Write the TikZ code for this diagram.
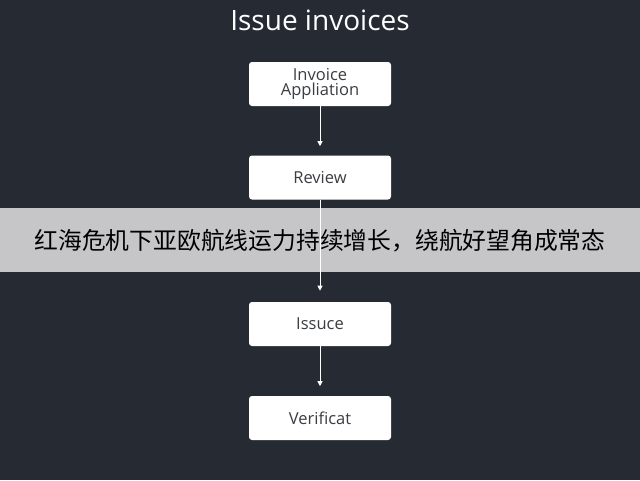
\documentclass[tikz,border=0pt]{standalone}
\usepackage{fontspec}
\setmainfont{Open Sans}
\newfontfamily\cjk{Noto Sans CJK SC}
\usetikzlibrary{arrows.meta}
\definecolor{bg}{HTML}{262B33}
\definecolor{band}{HTML}{C6C6C8}
\definecolor{txt}{HTML}{3A3D42}
\begin{document}
\begin{tikzpicture}[x=1pt,y=-1pt,
  box/.style={draw=none,fill=white,rounded corners=3pt,minimum width=142pt,minimum height=44pt,text=txt,font=\fontsize{16.5}{18}\selectfont,align=center,inner sep=2pt},
  arr/.style={draw=white,line width=1pt,-{Triangle[width=5pt,length=5pt]}}]
\fill[bg] (0,0) rectangle (640,480);
\node[text=white,font=\fontsize{28}{30}\selectfont] (t) at (320,20) {Issue invoices};
\node[box] (a) at (320,84) {Invoice\\[-3pt]Appliation};
\node[box] (b) at (320,177.5) {Review};
\node[box] (c) at (320,324) {Issuce};
\node[box] (d) at (320,418) {Verificat};
\fill[band] (0,208) rectangle (640,272);
\node[font=\cjk\fontsize{23.8}{26}\selectfont,text=black] (bt) at (320,241) {红海危机下亚欧航线运力持续增长，绕航好望角成常态};
\draw[arr] (a.south) -- ++(0,40);
\draw[arr] (b.south) -- ++(0,91);
\draw[arr] (c.south) -- ++(0,40);
\end{tikzpicture}
\end{document}
